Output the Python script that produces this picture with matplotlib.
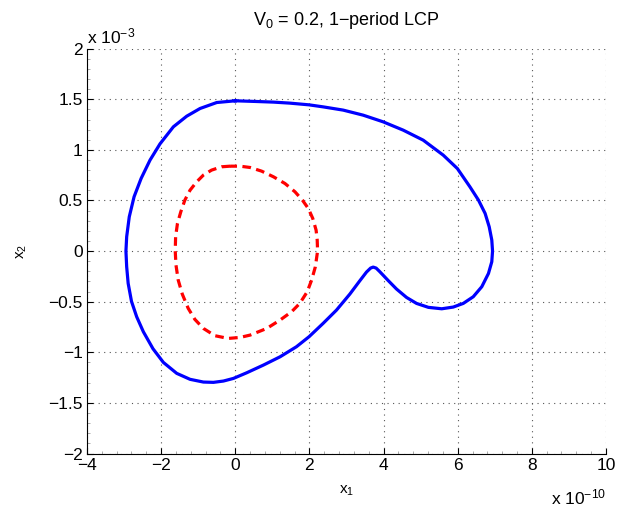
import matplotlib
matplotlib.use("Agg")
import matplotlib.pyplot as plt
from matplotlib.ticker import AutoMinorLocator

# x1 in units of 1e-10, x2 in units of 1e-3
lcp_x1 = [0.00, -0.50, -0.95, -1.31, -1.67, -2.03, -2.30, -2.54, -2.73, -2.86,
          -2.93, -2.95, -2.93, -2.89, -2.80, -2.66, -2.48, -2.22, -1.94, -1.58,
          -1.22, -0.86, -0.59, -0.32, -0.05, 0.31, 0.76, 1.21, 1.65, 1.99,
          2.37, 2.73, 3.09, 3.36, 3.54, 3.65, 3.72, 3.80, 3.90, 4.13,
          4.35, 4.62, 4.89, 5.21, 5.57, 5.88, 6.15, 6.42, 6.65, 6.83,
          6.92, 6.94, 6.92, 6.85, 6.74, 6.56, 6.33, 5.99, 5.61, 5.07,
          4.53, 3.99, 3.45, 2.91, 2.37, 1.99, 1.47, 1.03, 0.58, 0.00]
lcp_x2 = [1.485, 1.468, 1.409, 1.333, 1.228, 1.060, 0.899, 0.718, 0.537, 0.339,
          0.142, 0.000, -0.155, -0.319, -0.497, -0.649, -0.797, -0.965, -1.100, -1.208,
          -1.267, -1.294, -1.297, -1.284, -1.258, -1.202, -1.126, -1.044, -0.945, -0.846,
          -0.714, -0.583, -0.425, -0.293, -0.207, -0.168, -0.158, -0.168, -0.204, -0.293,
          -0.375, -0.458, -0.517, -0.556, -0.570, -0.553, -0.517, -0.451, -0.352, -0.221,
          -0.105, 0.000, 0.109, 0.240, 0.372, 0.504, 0.635, 0.816, 0.948, 1.096,
          1.195, 1.277, 1.343, 1.393, 1.425, 1.445, 1.462, 1.472, 1.478, 1.485]

eq_x1 = [-0.14, -0.37, -0.64, -0.86, -1.04, -1.22, -1.36, -1.47, -1.56, -1.61,
         -1.62, -1.60, -1.54, -1.43, -1.27, -1.09, -0.86, -0.55, -0.19, 0.13,
         0.40, 0.85, 1.21, 1.52, 1.74, 1.94, 2.06, 2.16, 2.22, 2.21,
         2.18, 2.09, 1.97, 1.81, 1.61, 1.34, 1.03, 0.71, 0.40, 0.13, -0.14]
eq_x2 = [0.839, 0.833, 0.800, 0.751, 0.685, 0.602, 0.504, 0.388, 0.273, 0.142,
         0.000, -0.138, -0.286, -0.425, -0.566, -0.675, -0.764, -0.836, -0.863, -0.853,
         -0.830, -0.764, -0.681, -0.599, -0.517, -0.402, -0.286, -0.155, 0.000, 0.109,
         0.207, 0.323, 0.421, 0.504, 0.586, 0.668, 0.734, 0.790, 0.826, 0.839, 0.839]

xticks = [-4, -2, 0, 2, 4, 6, 8, 10]
yticks = [-2, -1.5, -1, -0.5, 0, 0.5, 1, 1.5, 2]
ytick_labels = ['\u22122', '\u22121.5', '\u22121', '\u22120.5', '0', '0.5', '1', '1.5', '2']
xtick_labels = ['\u22124', '\u22122', '0', '2', '4', '6', '8', '10']

plt.rcParams['font.family'] = ['Liberation Sans', 'DejaVu Sans']
plt.rcParams['mathtext.fontset'] = 'custom'
plt.rcParams['mathtext.rm'] = 'Liberation Sans'
plt.rcParams['mathtext.it'] = 'Liberation Sans'

fig = plt.figure(figsize=(6.26, 5.07), dpi=100)
ax = fig.add_axes([0.139, 0.1055, 0.829, 0.7985])

ax.plot(lcp_x1, lcp_x2, color='#0000ff', lw=2.3, solid_joinstyle='round')
ax.plot(eq_x1, eq_x2, color='#ff0000', lw=2.3, ls=(0, (2.7, 1.7)))

ax.set_xlim(-4, 10)
ax.set_ylim(-2, 2)
ax.set_xticks(xticks)
ax.set_xticklabels(xtick_labels)
ax.set_yticks(yticks)
ax.set_yticklabels(ytick_labels)
ax.tick_params(direction='in', length=4, width=0.8, labelsize=12.5, pad=3)
ax.xaxis.set_minor_locator(AutoMinorLocator(5))
ax.yaxis.set_minor_locator(AutoMinorLocator(5))
ax.tick_params(which='minor', direction='in', length=2, width=0.5, color='#888888')
ax.grid(True, ls=(0, (1, 4)), color='#555555', lw=0.8)
ax.spines['top'].set_visible(False)
ax.spines['right'].set_visible(False)

ax.set_title('V$_0$ = 0.2, 1\u2212period LCP', fontsize=13, pad=17)
ax.set_xlabel('x$_1$', fontsize=11, labelpad=8)
ax.set_ylabel('x$_2$', fontsize=11, labelpad=14)

ax.text(0.0, 1.005, 'x 10$^{\u22123}$', transform=ax.transAxes, fontsize=12.5,
        ha='left', va='bottom')
ax.text(1.0, -0.085, 'x 10$^{\u221210}$', transform=ax.transAxes, fontsize=12.5,
        ha='right', va='top')

fig.savefig('out.png', dpi=100)
